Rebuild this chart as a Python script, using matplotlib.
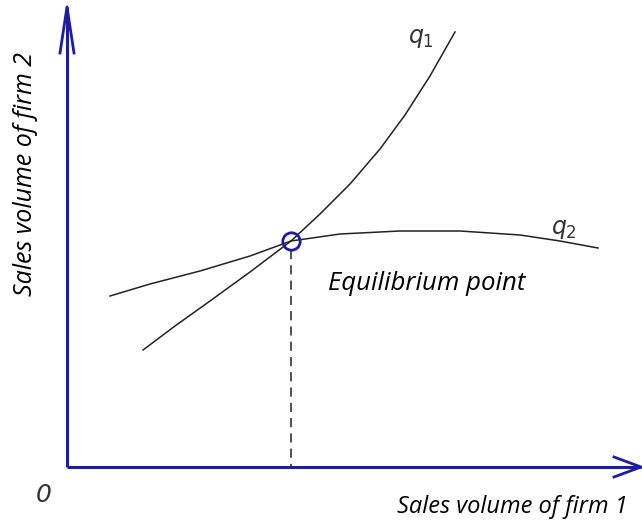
import matplotlib
matplotlib.use('Agg')
from matplotlib import pyplot as plt

# schematic drawn in picture coordinates (x to the right, y downwards)
q1_x = [143, 175, 210, 250, 291, 320, 350, 380, 405, 430, 455]
q1_y = [350, 326, 301, 272, 241, 214, 184, 149, 115, 76, 32]

q2_x = [110, 150, 200, 250, 291, 340, 400, 460, 520, 560, 598]
q2_y = [296, 284, 271, 256, 241, 234, 231, 231, 235, 241, 248]

equilibrium = (291, 241)
origin = (67, 467)
axis_end_x = 641
axis_end_y = 7

axis_labels = ['Sales volume of firm 1', 'Sales volume of firm 2']
curve_labels = ['$\\mathit{q}_1$', '$\\mathit{q}_2$']
point_label = 'Equilibrium point'

BLUE = '#1c1ca8'

fig = plt.figure(figsize=(6.42, 5.27), dpi=100)
ax = fig.add_axes([0, 0, 1, 1])
ax.set_xlim(0, 642)
ax.set_ylim(527, 0)
ax.axis('off')

# axes with open arrow heads
ax.plot([origin[0], axis_end_x], [origin[1], origin[1]], color=BLUE, lw=2.2, solid_capstyle='butt')
ax.plot([origin[0], origin[0]], [origin[1], axis_end_y], color=BLUE, lw=2.2, solid_capstyle='butt')
ax.plot([axis_end_x - 27, axis_end_x, axis_end_x - 27], [origin[1] - 10, origin[1], origin[1] + 10], color=BLUE, lw=2)
ax.plot([origin[0] - 7, origin[0], origin[0] + 7], [axis_end_y + 46, axis_end_y, axis_end_y + 46], color=BLUE, lw=2)

# curves
ax.plot(q1_x, q1_y, color='#222222', lw=1.1)
ax.plot(q2_x, q2_y, color='#222222', lw=1.1)

# equilibrium
ax.plot([equilibrium[0], equilibrium[0]], [equilibrium[1] + 9, origin[1]], color='#222222', lw=1.1, ls=(0, (6, 4)))
ax.plot(*equilibrium, 'o', ms=12.5, mfc='none', mec=BLUE, mew=2)

ax.text(408, 38, curve_labels[0], fontsize=17, color='#333333', va='center')
ax.text(551, 229, curve_labels[1], fontsize=17, color='#333333', va='center')
ax.text(44, 495, '0', fontsize=18, style='italic', color='#333333', va='center', ha='center',
        family='DejaVu Sans', fontweight='light')

font = dict(family='Open Sans', style='italic', color='black')
ax.text(328, 284, point_label, va='center', ha='left', fontsize=18.5, **font)
ax.text(628, 507, axis_labels[0], va='center', ha='right', fontsize=17, **font)
ax.text(26, 174, axis_labels[1], va='center', ha='center', rotation=90, fontsize=18, **font)

plt.savefig('out.png', dpi=100)
